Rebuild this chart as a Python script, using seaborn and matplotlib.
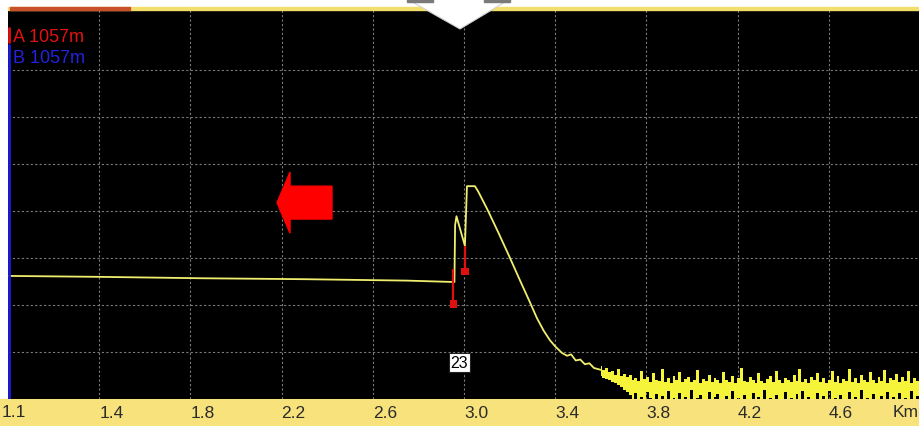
"""
OTDR trace screenshot recreated with seaborn.
"""

import numpy as np
import pandas as pd
import matplotlib
matplotlib.use("Agg")
import matplotlib.pyplot as plt
from matplotlib.patches import Rectangle, Polygon, FancyArrow
import matplotlib.transforms as mtransforms
import seaborn as sns

# ---- data (km / relative level, one grid step = 1 unit) ----
trace_km = [1.00, 1.40, 1.85, 2.30, 2.75, 2.958, 2.961, 2.967, 3.004, 3.013,
            3.048, 3.062, 3.101, 3.150, 3.200, 3.246, 3.290, 3.320, 3.350,
            3.377, 3.400, 3.430, 3.452, 3.470, 3.490, 3.510, 3.530, 3.550,
            3.570, 3.600]
trace_level = [2.62, 2.60, 2.57, 2.55, 2.52, 2.49, 3.70, 3.89, 3.26, 4.53,
               4.53, 4.42, 4.05, 3.55, 3.02, 2.52, 2.05, 1.72, 1.45,
               1.25, 1.12, 0.98, 0.92, 0.95, 0.82, 0.84, 0.74, 0.76,
               0.66, 0.62]

noise_high = [
    0.70, 0.62, 0.66, 0.58, 0.60, 0.52, 0.64, 0.50, 0.54, 0.47,
    0.52, 0.40, 0.45, 0.38, 0.60, 0.42, 0.46, 0.36, 0.55, 0.40,
    0.38, 0.64, 0.36, 0.44, 0.35, 0.50, 0.40, 0.58, 0.37, 0.42,
    0.46, 0.36, 0.40, 0.62, 0.35, 0.43, 0.38, 0.52, 0.36, 0.45,
    0.40, 0.35, 0.58, 0.41, 0.37, 0.48, 0.34, 0.44, 0.65, 0.38,
    0.36, 0.46, 0.40, 0.35, 0.55, 0.39, 0.34, 0.43, 0.50, 0.37,
    0.60, 0.40, 0.35, 0.45, 0.41, 0.36, 0.52, 0.38, 0.63, 0.36,
    0.42, 0.34, 0.47, 0.40, 0.56, 0.37, 0.44, 0.35, 0.40, 0.60,
    0.37, 0.48, 0.35, 0.43, 0.39, 0.64, 0.36, 0.45, 0.34, 0.52,
    0.40, 0.36, 0.58, 0.41, 0.35, 0.46, 0.38, 0.62, 0.35, 0.44,
    0.40, 0.54, 0.36, 0.47, 0.38, 0.60, 0.34, 0.45, 0.39, 0.50,
]
noise_low = [
    0.50, 0.45, 0.42, 0.40, 0.36, 0.33, 0.30, 0.25, 0.20, 0.15,
    0.08, 0.00, 0.12, 0.00, 0.04, 0.00, 0.15, 0.02, 0.00, 0.10,
    0.00, 0.06, 0.00, 0.18, 0.00, 0.03, 0.00, 0.12, 0.00, 0.05,
    0.00, 0.20, 0.00, 0.02, 0.08, 0.00, 0.00, 0.14, 0.00, 0.04,
    0.10, 0.00, 0.00, 0.06, 0.00, 0.17, 0.00, 0.02, 0.00, 0.09,
    0.00, 0.00, 0.13, 0.00, 0.05, 0.00, 0.20, 0.00, 0.03, 0.00,
    0.08, 0.00, 0.00, 0.15, 0.00, 0.02, 0.00, 0.10, 0.00, 0.18,
    0.00, 0.04, 0.00, 0.00, 0.12, 0.00, 0.06, 0.00, 0.16, 0.00,
    0.02, 0.00, 0.09, 0.00, 0.00, 0.14, 0.00, 0.05, 0.00, 0.19,
    0.00, 0.03, 0.00, 0.11, 0.00, 0.00, 0.07, 0.00, 0.15, 0.00,
    0.04, 0.00, 0.12, 0.00, 0.02, 0.00, 0.17, 0.00, 0.06, 0.00,
]
noise_start, noise_end = 3.60, 5.0

marker_km = [2.953, 3.004]
marker_bottom = [2.02, 2.72]
marker_top = [2.77, 3.26]

grid_km = [1.4, 1.8, 2.2, 2.6, 3.0, 3.4, 3.8, 4.2, 4.6]
grid_labels = ["1.4", "1.8", "2.2", "2.6", "3.0", "3.4", "3.8", "4.2", "4.6"]
first_label = "1.1"
unit_label = "Km"
grid_levels = [1, 2, 3, 4, 5, 6, 7]

marker_texts = ["A 1057m", "B 1057m"]
event_label = "23"

TRACE = "#f0ee6e"
NOISE = "#f6f43a"
BAND = "#f7e27c"
W, H = 920, 427

sns.set_theme(style="dark")
plt.rcParams["font.family"] = ["Liberation Sans", "DejaVu Sans"]

fig = plt.figure(figsize=(W / 100, H / 100), dpi=100, facecolor="white")
ax = fig.add_axes([8 / W, 27 / H, 912 / W, (H - 27 - 11) / H])
ax.set_facecolor("black")
for s in ax.spines.values():
    s.set_visible(False)

# bottom yellow band and top strip
fig.patches.append(Rectangle((0, 0), 1, 27 / H, transform=fig.transFigure,
                             color=BAND, zorder=-1))
fig.patches.append(Rectangle((8 / W, 1 - 11 / H), 1, 3 / H, transform=fig.transFigure,
                             color="#f2de6a", zorder=3))
fig.patches.append(Rectangle((10 / W, 1 - 11 / H), 120 / W, 3 / H, transform=fig.transFigure,
                             color="#c9502a", zorder=3))

# trace
df = pd.DataFrame({"km": trace_km, "level": trace_level})
sns.lineplot(data=df, x="km", y="level", ax=ax, color=TRACE, linewidth=1.3,
             estimator=None, sort=False, zorder=3)

noise_km = np.linspace(noise_start, noise_end, len(noise_high))
ax.fill_between(noise_km, noise_low, noise_high, step="mid", color=NOISE,
                linewidth=0, zorder=3)

# event markers
ax.vlines(marker_km, marker_bottom, marker_top, color="#e01010", linewidth=1.6, zorder=4)
sns.scatterplot(x=marker_km, y=marker_bottom, ax=ax, color="#e01010", marker="s",
                s=28, edgecolor="none", zorder=5)

# axes limits, grid and ticks (after seaborn so its labels are cleared)
ax.set_xlim(1.0, 5.0)
ax.set_ylim(0, 8.28)
ax.set_xlabel("")
ax.set_ylabel("")
ax.set_xticks(grid_km, grid_labels)
ax.set_yticks(grid_levels)
ax.set_yticklabels([])
ax.grid(True, color="#7a7a7a", linestyle=(0, (2, 2)), linewidth=0.8)
ax.tick_params(axis="both", length=0)
ax.tick_params(axis="x", pad=4, labelsize=12.5, labelcolor="#2b2b2b")
for lab in ax.get_xticklabels():
    lab.set_horizontalalignment("left")

# cursor lines at the left edge
ax.axvline(1.004, ymin=0, ymax=0.91, color="#1a1ad8", linewidth=2, zorder=4)
ax.axvline(1.004, ymin=0.918, ymax=0.955, color="#e01010", linewidth=2, zorder=4)
ax.text(0.006, 0.955, marker_texts[0], transform=ax.transAxes, color="#e21212",
        fontsize=13, va="top", ha="left")
ax.text(0.006, 0.90, marker_texts[1], transform=ax.transAxes, color="#2222e0",
        fontsize=13, va="top", ha="left")

# red arrow
ax.add_patch(FancyArrow(2.421, 4.18, -0.241, 0, width=0.70, head_width=1.30,
                        head_length=0.057, length_includes_head=True,
                        color="#ff0000", zorder=5))

# event label
ax.text(2.980, 0.78, event_label, color="black", fontsize=11.5, ha="center",
        va="center", zorder=6,
        bbox=dict(boxstyle="square,pad=0.12", facecolor="white", edgecolor="#222222",
                  linewidth=0.8))

# first label and unit
xtrans = mtransforms.blended_transform_factory(fig.transFigure, ax.transAxes)
ax.text(2 / W, -0.0125, first_label, transform=xtrans, fontsize=12.5,
        color="#2b2b2b", ha="left", va="top")
ax.text(4.88, -0.0125, unit_label, transform=ax.get_xaxis_transform(), fontsize=12.5,
        color="#2b2b2b", ha="left", va="top")

# white cursor triangle at top
tri = Polygon([(407 / W, 1.0), (510 / W, 1.0), (460 / W, 1 - 30 / H)], closed=True,
              transform=fig.transFigure, facecolor="white", edgecolor="#d0d0d0",
              linewidth=0.8, zorder=10)
fig.patches.append(tri)
fig.patches.append(Rectangle((407 / W, 1 - 3 / H), 26 / W, 3 / H, transform=fig.transFigure,
                             color="#7a7a7a", zorder=11))
fig.patches.append(Rectangle((484 / W, 1 - 3 / H), 26 / W, 3 / H, transform=fig.transFigure,
                             color="#7a7a7a", zorder=11))

fig.savefig("out.png", dpi=100, facecolor="white")
